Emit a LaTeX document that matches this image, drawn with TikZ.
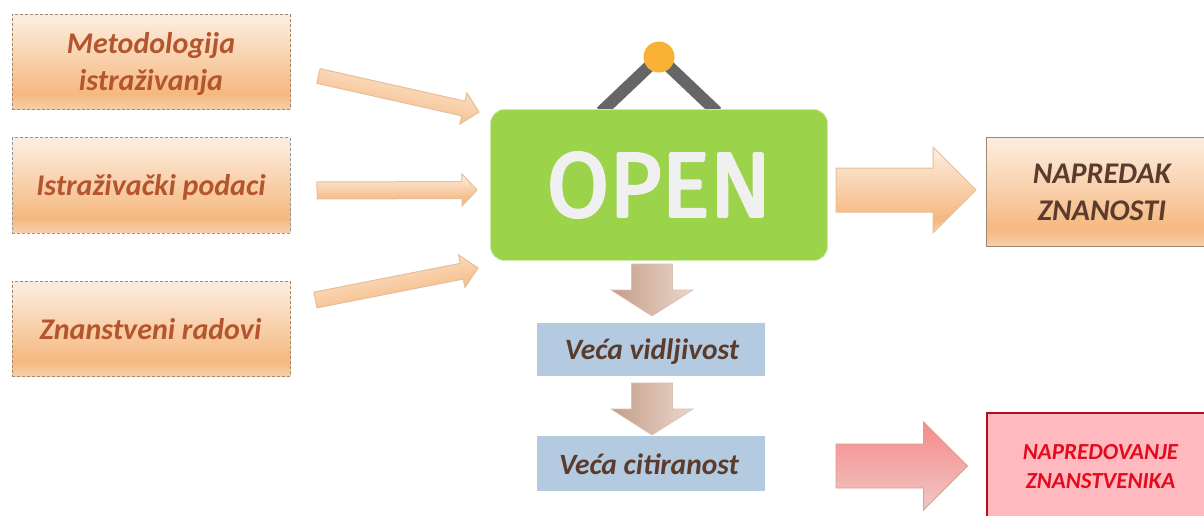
\documentclass[tikz,border=0pt]{standalone}
\usepackage{fontspec}
\setmainfont{Carlito}
\newfontfamily\signfont[FakeBold=3.5]{Fira Sans}
\usetikzlibrary{calc}
\definecolor{boxtext}{HTML}{B4552D}
\definecolor{darktext}{HTML}{5A3B2C}
\definecolor{redtext}{HTML}{E30B1E}
\definecolor{dashcol}{HTML}{A08A70}
\definecolor{dashblue}{HTML}{8A9AA0}
\definecolor{arrowline}{HTML}{E6BE98}
\definecolor{boxedge}{HTML}{9C8873}
\definecolor{signgreen}{HTML}{9BD34B}
\definecolor{signglow}{HTML}{CDEBA5}
\definecolor{signgrey}{HTML}{666666}
\definecolor{knob}{HTML}{F9B233}
\definecolor{signtext}{HTML}{F0F0F0}
\definecolor{bluebox}{HTML}{B4CAE0}
\definecolor{redfill}{HTML}{FFB9BF}
\definecolor{rededge}{HTML}{B01020}
\definecolor{downdark}{HTML}{C49C88}
\definecolor{downlight}{HTML}{EBD8CC}
\definecolor{downline}{HTML}{D9BFB0}
\definecolor{redtop}{HTML}{F68A8A}
\definecolor{redbot}{HTML}{F0C8C4}
\definecolor{redline}{HTML}{D9A090}
\definecolor{oa}{HTML}{F7CFAB}
\definecolor{ob}{HTML}{F5B880}
\definecolor{oc}{HTML}{FCEBDB}
\pgfdeclareverticalshading{orangegrad}{100bp}{color(0bp)=(oa); color(25bp)=(oa); color(33bp)=(ob); color(72bp)=(oc); color(100bp)=(oc)}
\newcommand{\fatarrow}[6][]{%
  \coordinate (neck) at ($(#3)!#6!(#2)$);
  \draw[#1] ($(#2)!#4!90:(#3)$) -- ($(neck)!#4!90:(#3)$) -- ($(neck)!#5!90:(#3)$) -- (#3)
    -- ($(neck)!#5!-90:(#3)$) -- ($(neck)!#4!-90:(#3)$) -- ($(#2)!#4!-90:(#3)$) -- cycle;
}
\tikzset{
  x=1pt,y=-1pt,
  srcbox/.style={rectangle,shade,shading=orangegrad,draw=dashcol,dashed,line width=.8pt,dash pattern=on 3pt off 2pt,
    minimum width=278pt,minimum height=95pt,inner sep=0pt,anchor=north west},
  srctext/.style={align=center,text=boxtext,font=\fontsize{30}{37}\selectfont\bfseries\itshape},
  resultbox/.style={rectangle,shade,shading=orangegrad,draw=boxedge,line width=1pt,
    minimum width=240pt,minimum height=109pt,inner sep=0pt,anchor=north west},
  bluestep/.style={rectangle,fill=bluebox,minimum width=228pt,inner sep=0pt,anchor=north west},
  steptext/.style={text=darktext,font=\fontsize{29.5}{32}\selectfont\bfseries\itshape},
  orangearrow/.style={shade,shading=orangegrad,draw=arrowline,line width=1pt,line join=miter},
  downarrow/.style={left color=downdark,right color=downlight,draw=downline,line width=.6pt},
  redarrow/.style={top color=redtop,bottom color=redbot,draw=redline,line width=.8pt},
}
\begin{document}
\begin{tikzpicture}
\useasboundingbox (0,0) rectangle (1204,516);
\clip (0,0) rectangle (1204,516);
\fill[white] (0,0) rectangle (1204,516);

% source boxes
\node[srcbox] (metod) at (12,14) {};
\node[srcbox,draw=dashblue] (podaci) at (12,137.5) {};
\node[srcbox] (radovi) at (12,281) {};
\node[srctext] (metodtext) at (151,64.5) {Metodologija\\istraživanja};
\node[srctext] (podacitext) at (151,187.5) {Istraživački podaci};
\node[srctext] (radovitext) at (150.5,329.5) {Znanstveni radovi};

% sign
\coordinate (hook) at (659,57);
\coordinate (hangL) at (601,112);
\coordinate (hangR) at (717,112);
\draw[signgrey,line width=12pt] (hook) -- (hangL);
\draw[signgrey,line width=12pt] (hook) -- (hangR);
\node[circle,fill=knob,minimum size=31pt,inner sep=0pt] (knobn) at (hook) {};
\node[rectangle,rounded corners=14pt,fill=signgreen,draw=signglow,line width=.8pt,
  minimum width=337pt,minimum height=151pt,inner sep=0pt] (sign) at (659,185) {};
\node[text=signtext,inner sep=0pt,xscale=.99] (opentext) at (659,185)
  {\special{pdf:code 1 j 1 J}\fontsize{91}{91}\selectfont\signfont OPEN};

% results
\node[resultbox] (napredak) at (986,137) {};
\node[text=darktext,align=center,font=\fontsize{30}{37}\selectfont\bfseries\itshape] (napredaktext) at (1102,192.5) {NAPREDAK\\ZNANOSTI};
\node[rectangle,fill=redfill,draw=rededge,line width=2pt,minimum width=240pt,minimum height=120pt,inner sep=0pt,anchor=north west] (redbox) at (986,412) {};
\node[text=redtext,align=center,font=\fontsize{23}{29}\selectfont\bfseries\itshape] (redtextn) at (1100.5,466.5) {NAPREDOVANJE\\ZNANSTVENIKA};

% steps
\node[bluestep,minimum height=53pt] (vid) at (537,323) {};
\node[bluestep,minimum height=55pt] (cit) at (537,436) {};
\node[steptext] (vidtext) at (652,352) {Veća vidljivost};
\node[steptext] (cittext) at (649,464) {Veća citiranost};

% arrows
\coordinate (a1s) at (318.5,76); \coordinate (a1e) at (479,112);
\coordinate (a2s) at (317,190.5); \coordinate (a2e) at (477,190);
\coordinate (a3s) at (315.5,300); \coordinate (a3e) at (478,268);
\coordinate (a4s) at (836,190); \coordinate (a4e) at (976,190);
\coordinate (d1s) at (652,264); \coordinate (d1e) at (652,316);
\coordinate (d2s) at (652,383); \coordinate (d2e) at (652,435);
\coordinate (a5s) at (836,466); \coordinate (a5e) at (967.5,466);
\fatarrow[orangearrow,shading angle=-12]{a1s}{a1e}{7.5pt}{16pt}{16pt}
\fatarrow[orangearrow]{a2s}{a2e}{8.5pt}{16pt}{15pt}
\fatarrow[orangearrow,shading angle=12]{a3s}{a3e}{8pt}{16.5pt}{16.5pt}
\fatarrow[orangearrow]{a4s}{a4e}{22pt}{43pt}{43pt}
\fatarrow[downarrow]{d1s}{d1e}{20.5pt}{41pt}{26pt}
\fatarrow[downarrow]{d2s}{d2e}{20.5pt}{41pt}{26pt}
\fatarrow[redarrow]{a5s}{a5e}{22pt}{44pt}{44pt}
\end{tikzpicture}
\end{document}
